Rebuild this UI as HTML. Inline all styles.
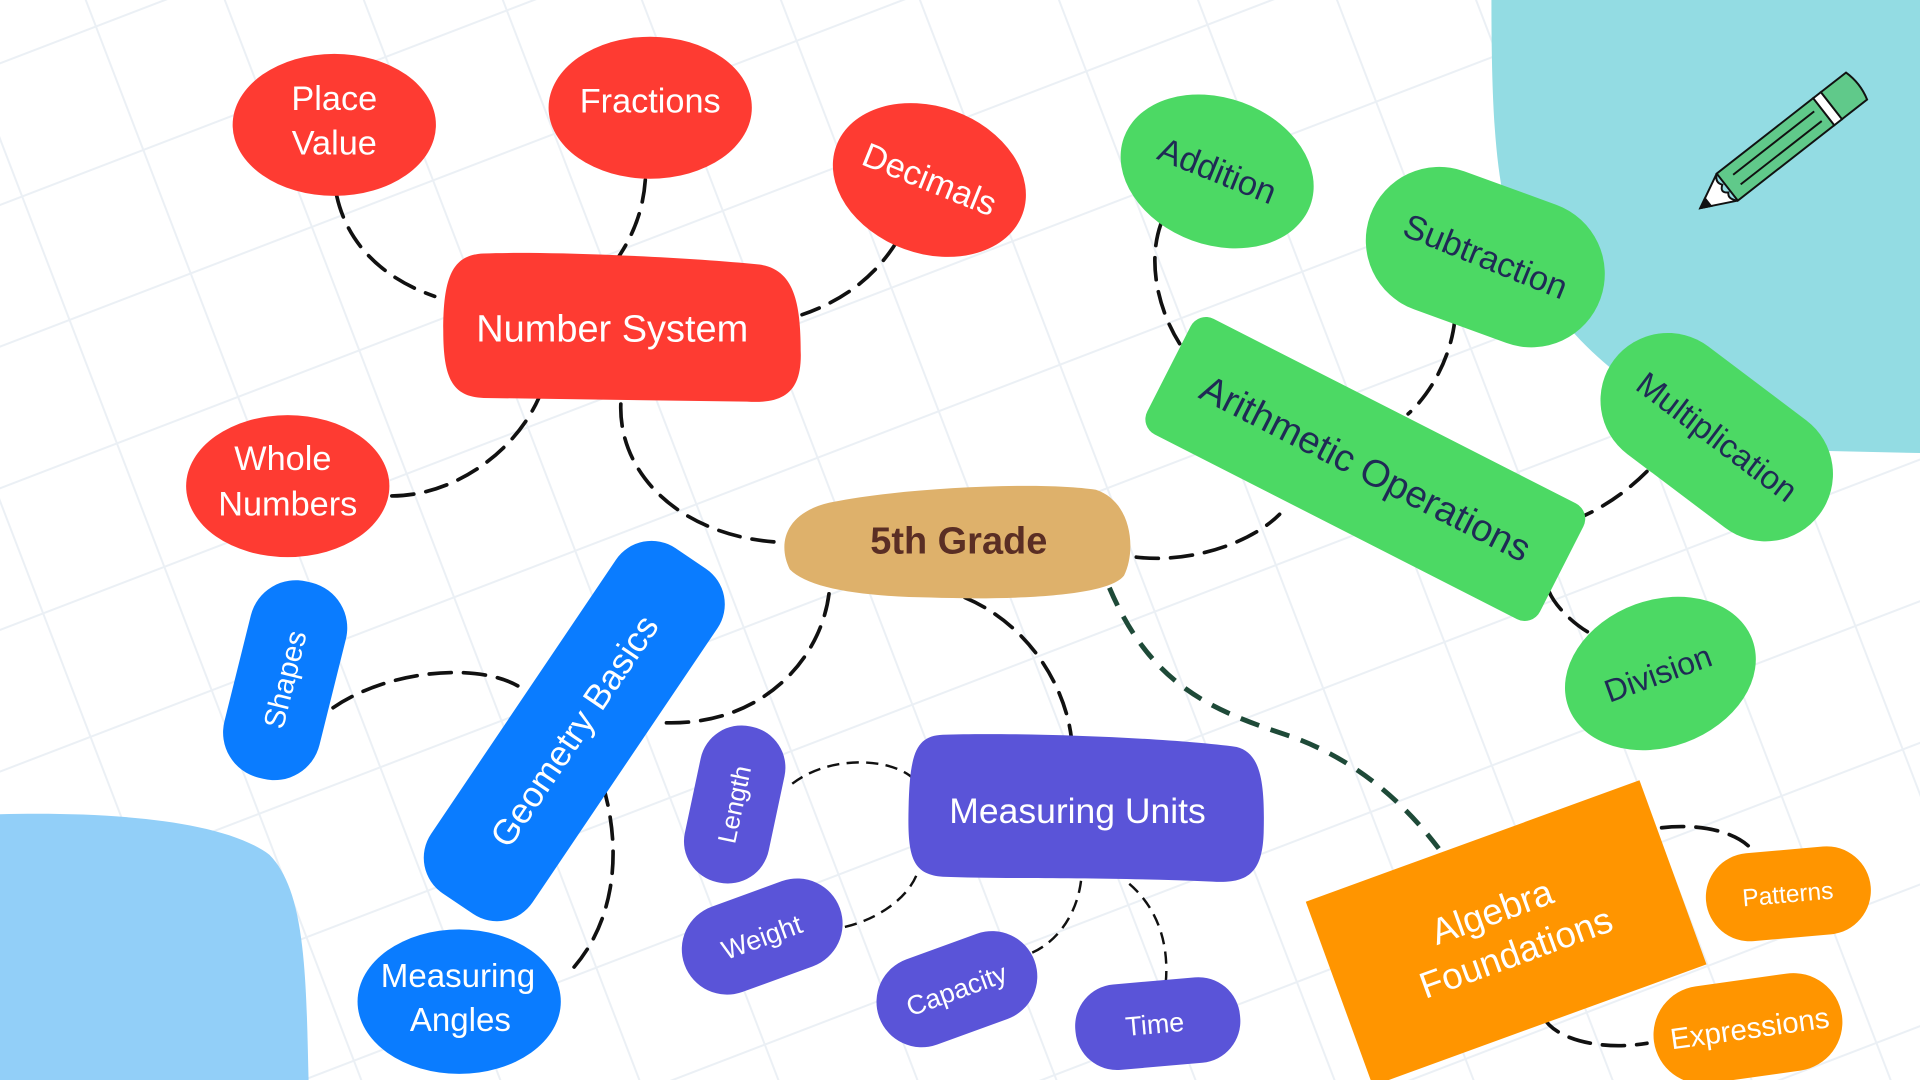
<!DOCTYPE html>
<html><head><meta charset="utf-8"><style>
html,body{margin:0;padding:0;width:1920px;height:1080px;overflow:hidden;background:#fff}
svg{display:block}
text{font-family:"Liberation Sans",sans-serif}
</style></head><body>
<svg width="1920" height="1080" viewBox="0 0 1568 882" xmlns="http://www.w3.org/2000/svg">
<defs>
<pattern id="grid" width="106" height="108" patternUnits="userSpaceOnUse" patternTransform="translate(116,122) rotate(-21)">
<path d="M0,0 L0,108 M0,0 L106,0" stroke="#e6ecf2" stroke-width="3.2" fill="none"/>
</pattern>
</defs>
<rect width="1568" height="882" fill="#fff"/>
<rect width="1568" height="882" fill="url(#grid)" opacity="0.8"/>
<path d="M1218,0 L1568,0 L1568,370 L1480,368 C1380,360 1300,300 1262,242 C1226,190 1218,140 1218,0 Z" fill="#93dce3"/>
<path d="M0,665 C80,663 180,668 220,698 C250,728 250,800 252,882 L0,882 Z" fill="#92cff8"/>

<!-- pencil -->
<g transform="translate(1450,122) rotate(-38)" stroke="#111" stroke-width="1.6">
<rect x="-50" y="-14" width="100" height="28" fill="#60c98a"/>
<rect x="50" y="-14" width="8" height="28" fill="#fff"/>
<path d="M58,-14 L84,-14 Q88,0 84,14 L58,14 Z" fill="#60c98a"/>
<path d="M-50,-14 L-78,0 L-50,14 Q-56,8 -52,4 Q-58,0 -52,-4 Q-56,-9 -50,-14Z" fill="#fff"/>
<path d="M-70,-4 L-78,0 L-70,4Z" fill="#111"/>
<path d="M-40,-5 L44,-5 M-40,5 L44,5" fill="none"/>
</g>

<!-- connectors -->
<g fill="none" stroke="#111" stroke-width="3" stroke-dasharray="18 10" stroke-linecap="round">
<path d="M275,160 C285,205 320,230 355,242"/>
<path d="M527,147 C525,175 515,195 505,210"/>
<path d="M732,198 C715,225 690,245 655,257"/>
<path d="M320,405 C370,405 420,370 440,325"/>
<path d="M507,330 C505,390 560,440 640,443"/>
<path d="M928,455 C970,460 1020,445 1045,420"/>
<path d="M948,183 C935,220 950,265 970,290"/>
<path d="M1188,262 C1185,290 1170,320 1150,338"/>
<path d="M1345,385 C1330,400 1310,415 1285,425"/>
<path d="M1265,483 C1270,495 1285,510 1300,518"/>
<path d="M677,485 C670,540 620,595 538,590"/>
<path d="M272,578 C320,545 400,540 430,565"/>
<path d="M492,640 C510,700 500,760 462,797"/>
<path d="M788,488 C840,510 870,560 875,603"/>
<path d="M1357,676 C1390,672 1425,680 1435,700"/>
<path d="M1260,830 C1270,850 1310,858 1345,852"/>
</g>
<g fill="none" stroke="#111" stroke-width="2" stroke-dasharray="10 6">
<path d="M647,640 C680,615 730,620 746,636"/>
<path d="M690,757 C720,750 745,730 750,710"/>
<path d="M843,778 C865,768 880,745 883,718"/>
<path d="M952,803 C955,770 945,740 920,720"/>
</g>
<path d="M906,480 C940,560 990,580 1050,600 C1110,620 1150,660 1175,693" fill="none" stroke="#1e4a38" stroke-width="4" stroke-dasharray="16 10"/>

<!-- red -->
<g fill="#fe3b32">
<ellipse cx="273" cy="102" rx="83" ry="58"/>
<ellipse cx="531" cy="88" rx="83" ry="58"/>
<ellipse cx="759" cy="147" rx="81" ry="60" transform="rotate(20 759 147)"/>
<path d="M395,207 C450,205 560,210 620,216 C650,220 654,250 654,290 C654,320 640,330 610,328 L395,325 C370,324 362,310 362,270 C362,225 370,208 395,207Z"/>
<ellipse cx="235" cy="397" rx="83" ry="58"/>
</g>
<g fill="#fff" font-size="28" text-anchor="middle">
<text x="273" y="90">Place</text><text x="273" y="126">Value</text>
<text x="531" y="92">Fractions</text>
<text x="759" y="147" transform="rotate(22 759 147)" dy="9">Decimals</text>
<text x="500" y="279" font-size="31">Number System</text>
<text x="231" y="384">Whole</text><text x="235" y="421">Numbers</text>
</g>

<!-- 5th grade -->
<path d="M680,410 C740,398 850,393 895,400 C925,410 928,450 918,470 C905,488 820,490 760,488 C700,487 660,480 645,465 C635,445 640,418 680,410Z" fill="#deb16b"/>
<text x="783" y="452" font-size="31" font-weight="bold" fill="#5a2e24" text-anchor="middle">5th Grade</text>

<!-- green -->
<g fill="#4cd964">
<ellipse cx="994" cy="140" rx="81" ry="60" transform="rotate(20 994 140)"/>
<rect x="1113" y="150" width="200" height="120" rx="60" transform="rotate(20 1213 210)"/>
<rect x="935" y="330" width="360" height="106" rx="14" transform="rotate(27 1115 383)"/>
<rect x="1297" y="302" width="210" height="110" rx="55" transform="rotate(37 1402 357)"/>
<ellipse cx="1356" cy="550" rx="80" ry="60" transform="rotate(-20 1356 550)"/>
</g>
<g fill="#1f2a55" text-anchor="middle">
<text x="994" y="140" dy="9" font-size="28" transform="rotate(22 994 140)">Addition</text>
<text x="1213" y="210" dy="9" font-size="28" transform="rotate(22 1213 210)">Subtraction</text>
<text x="1115" y="383" dy="10" font-size="31" transform="rotate(27 1115 383)">Arithmetic Operations</text>
<text x="1402" y="357" dy="9" font-size="27" transform="rotate(37 1402 357)">Multiplication</text>
<text x="1354" y="550" dy="9" font-size="26" transform="rotate(-20 1354 550)">Division</text>
</g>

<!-- blue -->
<g fill="#0a7cff">
<rect x="193" y="473" width="80" height="165" rx="38" transform="rotate(14 233 555)"/>
<rect x="299" y="547" width="340" height="100" rx="35" transform="rotate(-56 469 597)"/>
<ellipse cx="375" cy="818" rx="83" ry="59"/>
</g>
<g fill="#fff" text-anchor="middle">
<text x="233" y="555" dy="8" font-size="24" transform="rotate(-76 233 555)">Shapes</text>
<text x="469" y="597" dy="10" font-size="29" transform="rotate(-56 469 597)">Geometry Basics</text>
<text x="374" y="806" font-size="27">Measuring</text><text x="376" y="842" font-size="27">Angles</text>
</g>

<!-- purple -->
<g fill="#5a54d8">
<rect x="565" y="592" width="70" height="130" rx="34" transform="rotate(12 600 657)"/>
<path d="M770,600 C830,598 950,602 1010,610 C1030,615 1033,640 1032,680 C1031,712 1020,722 990,720 C900,716 820,718 770,716 C745,714 741,700 742,660 C743,615 748,601 770,600Z"/>
<rect x="555" y="728" width="135" height="74" rx="37" transform="rotate(-20 622 765)"/>
<rect x="714" y="771" width="135" height="74" rx="37" transform="rotate(-20 781 808)"/>
<rect x="878" y="801" width="135" height="70" rx="34" transform="rotate(-5 945 836)"/>
</g>
<g fill="#fff" text-anchor="middle">
<text x="600" y="657" dy="7" font-size="21" transform="rotate(-78 600 657)">Length</text>
<text x="880" y="672" font-size="29">Measuring Units</text>
<text x="622" y="765" dy="8" font-size="22" transform="rotate(-20 622 765)">Weight</text>
<text x="781" y="808" dy="8" font-size="22" transform="rotate(-20 781 808)">Capacity</text>
<text x="943" y="836" dy="8" font-size="22" transform="rotate(-5 943 836)">Time</text>
</g>

<!-- orange -->
<g fill="#ff9500">
<rect x="1085" y="682" width="290" height="160" transform="rotate(-20 1230 762)"/>
<rect x="1393" y="694" width="135" height="72" rx="36" transform="rotate(-5 1460 730)"/>
<rect x="1350" y="800" width="155" height="80" rx="40" transform="rotate(-8 1427 840)"/>
</g>
<g fill="#fff" text-anchor="middle">
<g transform="rotate(-20 1230 762)">
<text x="1225" y="752" font-size="30">Algebra</text>
<text x="1232" y="790" font-size="30">Foundations</text>
</g>
<text x="1460" y="730" dy="7" font-size="20" transform="rotate(-5 1460 730)">Patterns</text>
<text x="1429" y="840" dy="8" font-size="24" transform="rotate(-8 1429 840)">Expressions</text>
</g>
</svg>
</body></html>
